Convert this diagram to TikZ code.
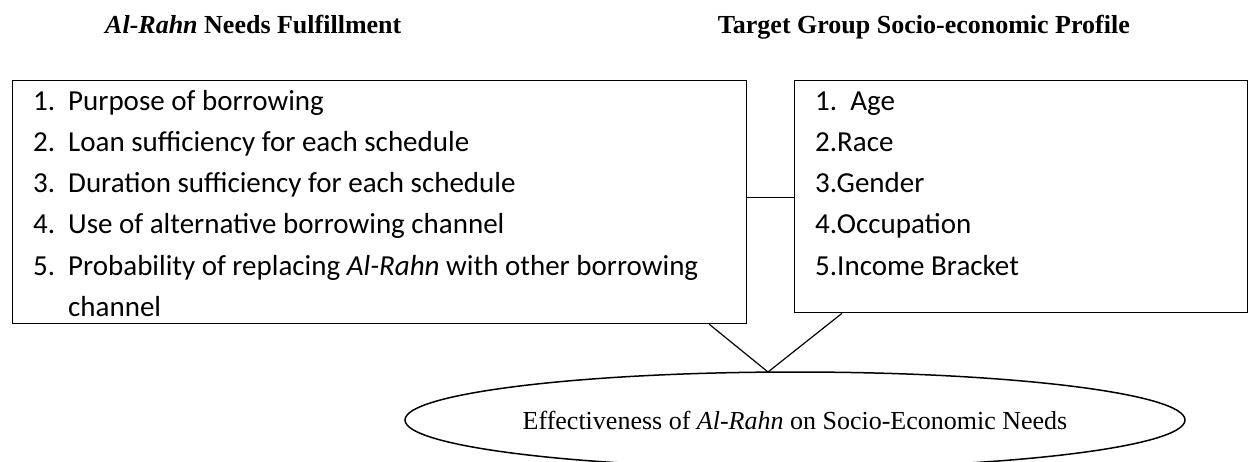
\documentclass[tikz,border=0pt]{standalone}
\usepackage{fontspec}
\setmainfont{Liberation Serif}
\newfontfamily\calibri{Carlito}
\usetikzlibrary{shapes.geometric,positioning}

\tikzset{
  box/.style={draw, line width=1.3pt, inner sep=0pt, anchor=north west},
  item/.style={anchor=base west, inner sep=0pt, font=\calibri\fontsize{29}{34}\selectfont},
  heading/.style={inner sep=0pt, font=\bfseries\fontsize{26}{30}\selectfont},
  link/.style={line width=1.2pt},
}

\begin{document}
\begin{tikzpicture}[x=1pt,y=-1pt]
        \useasboundingbox (0,0) rectangle (1249,461); % page size
        \node[heading, anchor=base west] (needshead) at (105,33)
        {\textit{Al-Rahn} Needs Fulfillment}; % left title
        \node[heading, anchor=base east] (profilehead) at (1130,33)
        {Target Group Socio-economic Profile}; % right title
        \node[box, minimum width=734pt, minimum height=243pt] (needs) at (12,80) {}; % left box
        \node[box, minimum width=453pt, minimum height=232pt] (profile) at (794,80) {}; % right box
        \foreach \n/\t [count=\i] in {1/Purpose of borrowing,
                2/Loan sufficiency for each schedule,
                3/Duration sufficiency for each schedule,
                4/Use of alternative borrowing channel,
                5/{Probability of replacing \textit{Al-Rahn} with other borrowing}}
        \node[item] (needs-\i) at (33,{68.7+41.3*\i}) {\makebox[35pt][l]{\n.}\t}; % needs items
        \node[item] (needs-6) at (68,{68.7+41.3*6}) {channel}; % wrapped line
        \foreach \t [count=\i] in {1.~~Age, 2.Race, 3.Gender, 4.Occupation, 5.Income Bracket}
        \node[item] (profile-\i) at (815,{68.7+41.3*\i}) {\t}; % profile items
        \draw[link] ([yshift=5pt]needs.east) -- ([yshift=5pt]needs.east -| profile.west); % joins the two boxes
        \node[draw, ellipse, line width=1.5pt, inner sep=0pt, minimum width=780pt,
        minimum height=96pt, font=\fontsize{26}{30}\selectfont] (goal) at (795,420)
        {Effectiveness of \textit{Al-Rahn} on Socio-Economic Needs}; % outcome
        \coordinate (apex) at (768,372); % meeting point on the ellipse
        \draw[link] ([xshift=-38pt]needs.south east) -- (apex)
        -- ([xshift=48pt]profile.south west); % both boxes lead to the outcome
\end{tikzpicture}
\end{document}
